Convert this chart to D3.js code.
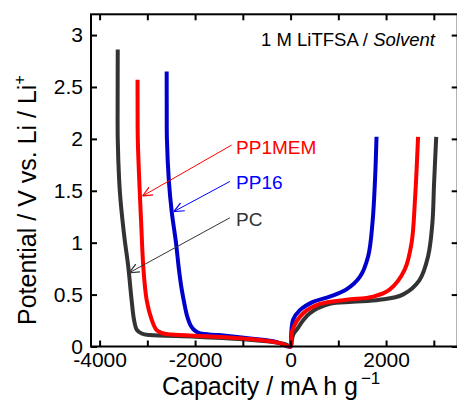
<!DOCTYPE html>
<html>
<head>
<meta charset="utf-8">
<script src="https://cdn.jsdelivr.net/npm/d3@7"></script>
<style>
  body { margin: 0; background: #fff; }
  svg text { font-family: "Liberation Sans", Arial, sans-serif; }
</style>
</head>
<body>
<div id="chart"></div>
<script>
let width = 457,
    height = 401,
    margin = ({ top: 14.3, right: -0.7, bottom: 54.5, left: 91 });

// series: [capacity mAh/g, potential V]
const pcData = [
  [-3620, 2.86], [-3622, 2.4], [-3620, 2.0], [-3590, 1.6], [-3560, 1.4], [-3480, 1.05],
  [-3400, 0.77], [-3330, 0.45], [-3280, 0.26], [-3220, 0.16], [-3120, 0.125],
  [-2950, 0.11], [-2000, 0.095], [-1000, 0.07], [-400, 0.045], [-100, 0.02], [0, 0],
  [20, 0.05], [60, 0.12], [125, 0.16], [260, 0.25], [400, 0.32], [820, 0.41],
  [1300, 0.43], [1860, 0.45], [2350, 0.5], [2700, 0.64], [2880, 0.87],
  [2970, 1.19], [3005, 1.57], [3050, 2.02]
];
const pp16Data = [
  [-2595, 2.65], [-2594, 2.3], [-2590, 2.0], [-2550, 1.6], [-2490, 1.3], [-2400, 1.0],
  [-2340, 0.75], [-2280, 0.55], [-2210, 0.38], [-2165, 0.29], [-2090, 0.2],
  [-2010, 0.155], [-1890, 0.125], [-1500, 0.11], [-800, 0.075], [-300, 0.045], [0, 0],
  [10, 0.1], [55, 0.26], [195, 0.35], [470, 0.43], [820, 0.48], [1170, 0.55],
  [1450, 0.67], [1625, 0.87], [1715, 1.19], [1765, 1.57], [1800, 2.02]
];
const pp1memData = [
  [-3205, 2.57], [-3204, 2.3], [-3200, 2.0], [-3160, 1.5], [-3130, 1.2], [-3085, 0.77],
  [-3015, 0.45], [-2910, 0.26], [-2810, 0.16], [-2700, 0.13], [-2500, 0.115],
  [-1600, 0.095], [-600, 0.06], [-200, 0.03], [0, 0],
  [15, 0.08], [40, 0.16], [265, 0.32], [615, 0.41], [1170, 0.45], [1730, 0.48],
  [2080, 0.55], [2390, 0.74], [2535, 1.0], [2605, 1.41], [2670, 2.02]
];

const seriesNames = ["PC", "PP16", "PP1MEM"];
const seriesColors = ["#333333", "#0000cc", "#ff0000"];
const seriesData = [pcData, pp16Data, pp1memData];
const labelColors = ["#333333", "#0000ff", "#ff0000"];

// label text position [cap, V], arrow tail and tip [cap, V]
const labelPos = [[-1141, 1.16], [-1141, 1.52], [-1141, 1.85]];
const arrowTail = [[-1271, 1.24], [-1271, 1.59], [-1236, 1.94]];
const arrowTip = [[-3380, 0.71], [-2444, 1.30], [-3099, 1.45]];

const xTicks = [-4000, -3000, -2000, -1000, 0, 1000, 2000, 3000];
const xLabels = [-4000, -2000, 0, 2000];
const yTicks = [0, 0.5, 1, 1.5, 2, 2.5, 3];

const svg = d3.select("#chart")
    .append("svg")
    .attr("width", width)
    .attr("height", height);

let x = d3.scaleLinear()
    .domain([-4180, 3500])
    .range([margin.left, width - margin.right]);

let y = d3.scaleLinear()
    .domain([0, 3.2])
    .range([height - margin.bottom, margin.top]);

const line = d3.line()
    .x(d => x(d[0]))
    .y(d => y(d[1]))
    .curve(d3.curveCatmullRom.alpha(0.5));

// curves
svg.append("g")
  .selectAll("path")
  .data(seriesData)
  .join("path")
  .attr("fill", "none")
  .attr("stroke", (d, i) => seriesColors[i])
  .attr("stroke-width", 4)
  .attr("stroke-linejoin", "round")
  .attr("d", line);

// axes, ticks inward
const tickLen = 6;
const fmt = d => d < 0 ? "-" + Math.abs(d) : String(d);

const axisStyle = g => {
  g.select(".domain").remove();
  g.selectAll(".tick line").attr("stroke", "#000").attr("stroke-width", 2);
  g.selectAll(".tick text")
    .attr("font-size", 21)
    .attr("fill", "#000");
};

svg.append("g")
  .attr("transform", `translate(0,${y(0)})`)
  .call(d3.axisBottom(x).tickValues(xTicks).tickSize(-tickLen).tickPadding(6)
    .tickFormat(d => xLabels.includes(d) ? fmt(d) : ""))
  .call(axisStyle);

svg.append("g")
  .attr("transform", `translate(0,${y(3.2)})`)
  .call(d3.axisTop(x).tickValues(xTicks).tickSize(-tickLen).tickFormat(""))
  .call(axisStyle);

svg.append("g")
  .attr("transform", `translate(${x(-4180)},0)`)
  .call(d3.axisLeft(y).tickValues(yTicks).tickSize(-tickLen).tickPadding(8)
    .tickFormat(d3.format("")))
  .call(axisStyle);

svg.append("g")
  .attr("transform", `translate(${x(3500)},0)`)
  .call(d3.axisRight(y).tickValues(yTicks).tickSize(-tickLen).tickFormat(""))
  .call(axisStyle);

// frame
svg.append("rect")
  .attr("x", x(-4180))
  .attr("y", y(3.2))
  .attr("width", x(3500) - x(-4180))
  .attr("height", y(0) - y(3.2))
  .attr("fill", "none")
  .attr("stroke", "#000")
  .attr("stroke-width", 2);

// arrow markers
const defs = svg.append("defs");
seriesColors.forEach((c, i) => {
  defs.append("marker")
    .attr("id", "arr" + i)
    .attr("viewBox", "0 -5 10 10")
    .attr("refX", 10)
    .attr("refY", 0)
    .attr("markerUnits", "userSpaceOnUse")
    .attr("markerWidth", 10)
    .attr("markerHeight", 10)
    .attr("orient", "auto")
    .append("path")
    .attr("d", "M0,-4.5L10,0L0,4.5")
    .attr("fill", "none")
    .attr("stroke", labelColors[i])
    .attr("stroke-width", 1.2);
});

svg.append("g")
  .selectAll("line")
  .data(seriesNames)
  .join("line")
  .attr("x1", (d, i) => x(arrowTail[i][0]))
  .attr("y1", (d, i) => y(arrowTail[i][1]))
  .attr("x2", (d, i) => x(arrowTip[i][0]))
  .attr("y2", (d, i) => y(arrowTip[i][1]))
  .attr("stroke", (d, i) => labelColors[i])
  .attr("stroke-width", 1)
  .attr("marker-end", (d, i) => `url(#arr${i})`);

svg.append("g")
  .selectAll("text")
  .data(seriesNames)
  .join("text")
  .attr("x", (d, i) => x(labelPos[i][0]))
  .attr("y", (d, i) => y(labelPos[i][1]))
  .attr("font-size", 19)
  .attr("fill", (d, i) => labelColors[i])
  .text(d => d);

// electrolyte note
const note = svg.append("text")
  .attr("x", x(3022))
  .attr("y", y(2.89))
  .attr("text-anchor", "end")
  .attr("font-size", 18.5)
  .attr("fill", "#000");
note.append("tspan").text("1 M LiTFSA / ");
note.append("tspan").attr("font-style", "italic").text("Solvent");

// axis titles
const xt = svg.append("text")
  .attr("x", 162)
  .attr("y", 395)
  .attr("font-size", 25)
  .attr("fill", "#000");
xt.append("tspan").text("Capacity / mA h g");
xt.append("tspan").attr("font-size", 17).attr("dx", 3).attr("dy", -11).text("\u22121");

const yt = svg.append("text")
  .attr("transform", "translate(36,325) rotate(-90)")
  .attr("font-size", 25)
  .attr("fill", "#000");
yt.append("tspan").text("Potential / V vs. Li / Li");
yt.append("tspan").attr("font-size", 16).attr("dy", -11).text("+");
</script>
</body>
</html>
